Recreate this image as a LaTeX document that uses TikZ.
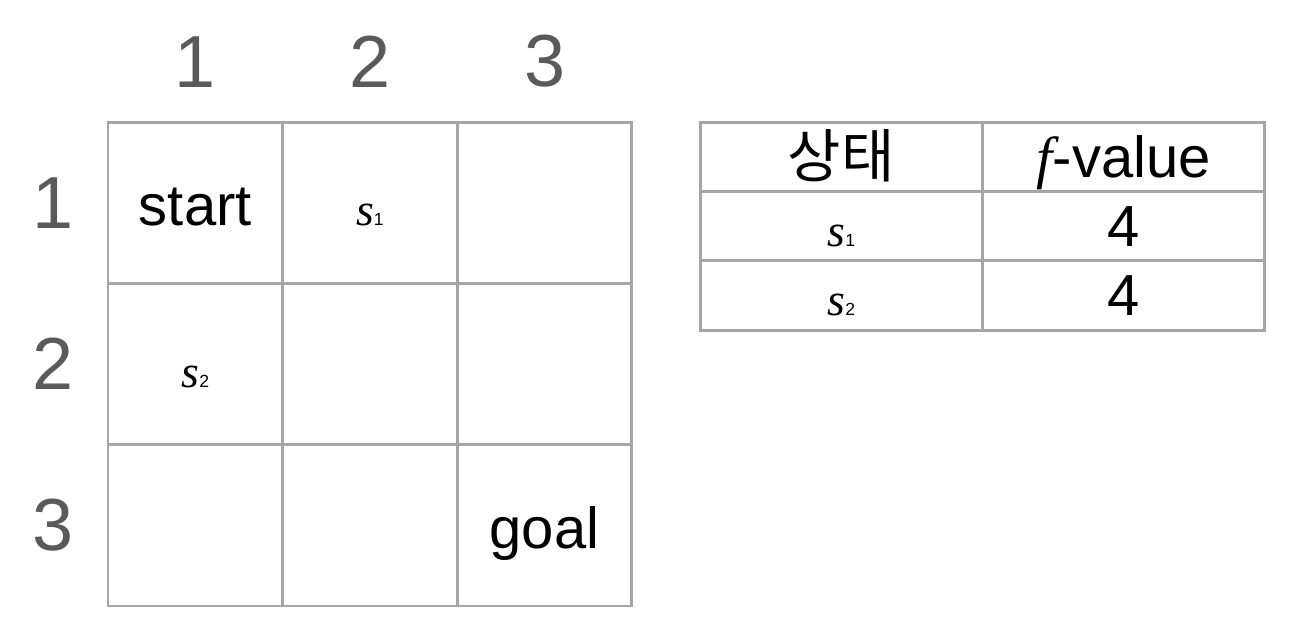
\documentclass[tikz,border=0pt]{standalone}
\usepackage{fontspec}
\setmainfont{Liberation Sans}
\newfontfamily\tms{Liberation Serif}
\newfontfamily\kor{Noto Sans CJK KR}
\usetikzlibrary{positioning}
\definecolor{gridgray}{RGB}{166,166,166}
\definecolor{idxgray}{RGB}{90,90,90}
\newcommand\sv[1]{{\tms\itshape\fontsize{26}{26}\selectfont s}{\fontsize{10}{10}\selectfont #1}}
\tikzset{
  cellbox/.style={rectangle, draw=gridgray, line width=1.7pt, outer sep=0pt, inner sep=0pt,
    minimum width=3.493cm, minimum height=3.227cm, text height=0.92cm, text depth=0pt,
    font=\fontsize{33}{33}\selectfont},
  tabbox/.style={cellbox, minimum width=5.65cm, minimum height=1.387cm, text height=0.82cm},
  idxlab/.style={inner sep=0pt, text=idxgray, font=\fontsize{42}{42}\selectfont},
}

\begin{document}
\begin{tikzpicture}[x=0.02cm, y=-0.02cm, node distance=0pt]
\useasboundingbox (0,0) rectangle (1300,634);
% grid world
\node[cellbox] (c11) at (195.3,202.7) {start};
\node[cellbox, right=of c11] (c12) {\sv{1}};
\node[cellbox, right=of c12] (c13) {};
\node[cellbox, below=of c11] (c21) {\sv{2}};
\node[cellbox, right=of c21] (c22) {};
\node[cellbox, right=of c22] (c23) {};
\node[cellbox, below=of c21] (c31) {};
\node[cellbox, right=of c31] (c32) {};
\node[cellbox, right=of c32] (c33) {goal};
% indices
\foreach \i in {1,2,3} {
  \node[idxlab, above=0.68cm of c1\i] (col\i) {\i};
  \node[idxlab, left=0.69cm of c\i1] (row\i) {\i};
}
% open list
\node[tabbox] (t11) at (841.25,156.7) {\kor 상태};
\node[tabbox, right=of t11] (t12) {{\tms\itshape f}-value};
\node[tabbox, below=of t11] (t21) {\sv{1}};
\node[tabbox, right=of t21] (t22) {4};
\node[tabbox, below=of t21] (t31) {\sv{2}};
\node[tabbox, right=of t31] (t32) {4};
\end{tikzpicture}
\end{document}
